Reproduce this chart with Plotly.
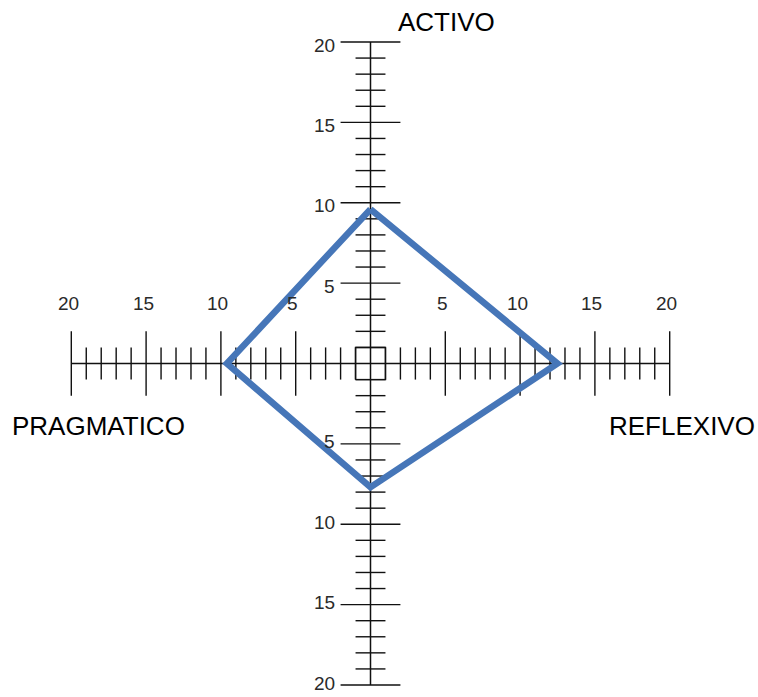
import plotly.graph_objects as go

# ---- data ----
axis_titles = ["ACTIVO", "REFLEXIVO", "PRAGMATICO"]
# values along each direction: up (Activo), right (Reflexivo), down (unlabelled), left (Pragmatico)
val_activo = 9.6
val_reflexivo = 12.5
val_bottom = 7.7
val_pragmatico = 9.6
axis_max = 20
minor_ticks = list(range(1, 21))
major_ticks = [5, 10, 15, 20]
tick_labels = ["5", "10", "15", "20"]

fig = go.Figure()

LINE = "#111111"

# axes lines
fig.add_trace(go.Scatter(x=[-axis_max, axis_max], y=[0, 0], mode="lines",
                         line=dict(color=LINE, width=1.5), hoverinfo="skip"))
fig.add_trace(go.Scatter(x=[0, 0], y=[-axis_max, axis_max], mode="lines",
                         line=dict(color=LINE, width=1.5), hoverinfo="skip"))

# ticks
hx, hy, vx, vy = [], [], [], []
for v in minor_ticks:
    L = 2 if v in major_ticks else 1
    for s in (-1, 1):
        hx += [s * v, s * v, None]
        hy += [-L, L, None]
        vx += [-L, L, None]
        vy += [s * v, s * v, None]
fig.add_trace(go.Scatter(x=hx, y=hy, mode="lines", line=dict(color=LINE, width=1.4),
                         hoverinfo="skip", connectgaps=False))
fig.add_trace(go.Scatter(x=vx, y=vy, mode="lines", line=dict(color=LINE, width=1.4),
                         hoverinfo="skip", connectgaps=False))

# centre square
fig.add_trace(go.Scatter(x=[-1, 1, 1, -1, -1], y=[-1, -1, 1, 1, -1], mode="lines",
                         line=dict(color=LINE, width=1.4), hoverinfo="skip"))

# diamond
fig.add_trace(go.Scatter(
    x=[0, val_reflexivo, 0, -val_pragmatico, 0],
    y=[val_activo, 0, -val_bottom, 0, val_activo],
    mode="lines", line=dict(color="#4676B8", width=6.5), hoverinfo="skip"))

ann = []
numfont = dict(family="Liberation Sans, Arial", size=19, color="#2a2a2a")
for v, t in zip(major_ticks, tick_labels):
    for s in (-1, 1):
        ann.append(dict(x=s * v, y=3.75, text=t, showarrow=False, font=numfont,
                        xanchor="center", yanchor="middle", xshift=-3))
        ann.append(dict(x=-2.25, y=s * v, text=t, showarrow=False, font=numfont,
                        xanchor="right", yanchor="middle", yshift=(-3 if s > 0 else 2)))

titlefont = dict(family="Liberation Sans, Arial", size=26, color="#000000")
ann.append(dict(x=5.1, y=21.25, text=axis_titles[0], showarrow=False, font=titlefont,
                xanchor="center", yanchor="middle"))
ann.append(dict(x=20.8, y=-3.9, text=axis_titles[1], showarrow=False, font=titlefont,
                xanchor="center", yanchor="middle"))
ann.append(dict(x=-18.15, y=-3.9, text=axis_titles[2], showarrow=False, font=titlefont,
                xanchor="center", yanchor="middle"))

fig.update_layout(
    width=758, height=697,
    margin=dict(l=0, r=0, t=0, b=0),
    paper_bgcolor="white", plot_bgcolor="white",
    showlegend=False,
    annotations=ann,
    xaxis=dict(range=[-370.5 / 14.96, (758 - 370.5) / 14.96], visible=False, fixedrange=True),
    yaxis=dict(range=[-(697 - 363.5) / 16.075, 363.5 / 16.075], visible=False, fixedrange=True),
)

fig.write_html("out.html", config={"displayModeBar": False},
               post_script="document.body.style.margin='0';document.body.style.overflow='hidden';")
